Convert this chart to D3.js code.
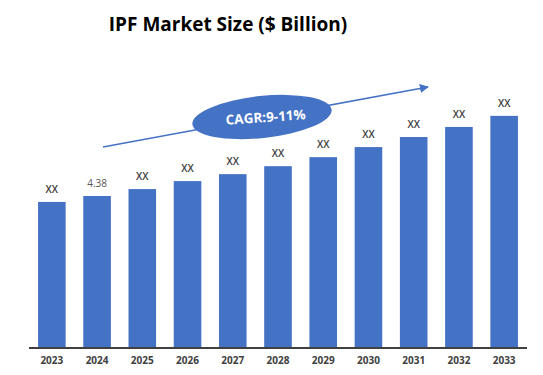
<!DOCTYPE html>
<html>
  <head>
    <meta charset="utf-8" />
    <title>IPF Market Size</title>
    <script src="https://d3js.org/d3.v7.min.js"></script>
    <style>
      body { margin: 0; background: #fff; }
      svg { font-family: "Open Sans", "Liberation Sans", sans-serif; display: block; }
    </style>
  </head>
  <body>
    <div id="chart"></div>
    <script>
      // chart data
      const years = ["2023", "2024", "2025", "2026", "2027", "2028", "2029", "2030", "2031", "2032", "2033"];
      const values = [4.21, 4.38, 4.58, 4.81, 5.01, 5.24, 5.5, 5.79, 6.08, 6.37, 6.69];
      const labels = ["XX", "4.38", "XX", "XX", "XX", "XX", "XX", "XX", "XX", "XX", "XX"];

      const width = 543;
      const height = 375;
      const baseY = 348;

      const svg = d3.select("#chart").append("svg")
        .attr("width", width)
        .attr("height", height);

      const x = d3.scaleBand().domain(years).range([29, 527]).paddingInner(0.39).paddingOuter(0.2);
      const y = d3.scaleLinear().domain([0, 1]).range([baseY, baseY - 34.7]);

      // title
      svg.append("text")
        .attr("x", 228)
        .attr("y", 31)
        .attr("text-anchor", "middle")
        .attr("font-size", "19px")
        .attr("font-weight", "bold")
        .attr("fill", "#000")
        .text("IPF Market Size ($ Billion)");

      // bars
      svg.selectAll(".bar")
        .data(values)
        .join("rect")
        .attr("class", "bar")
        .attr("x", (d, i) => x(years[i]))
        .attr("y", d => y(d))
        .attr("width", x.bandwidth())
        .attr("height", d => baseY - y(d))
        .attr("fill", "#4472c4");

      // value labels
      svg.selectAll(".lbl")
        .data(values)
        .join("text")
        .attr("class", "lbl")
        .attr("x", (d, i) => x(years[i]) + x.bandwidth() / 2)
        .attr("y", d => y(d) - 9)
        .attr("text-anchor", "middle")
        .attr("font-size", "10px")
        .attr("font-weight", (d, i) => labels[i] === "XX" ? "600" : "normal")
        .attr("fill", (d, i) => labels[i] === "XX" ? "#404040" : "#595959")
        .text((d, i) => labels[i]);

      // x axis
      const xAxis = d3.axisBottom(x).tickSize(0).tickPadding(9);
      const gx = svg.append("g")
        .attr("transform", `translate(0,${baseY})`)
        .call(xAxis);
      gx.select(".domain").attr("stroke", "#404040").attr("stroke-width", 2).attr("d", "M29,0H527");
      gx.selectAll("text")
        .attr("font-family", "'Open Sans', sans-serif")
        .attr("font-size", "10px")
        .attr("font-weight", "bold")
        .attr("fill", "#404040");

      // CAGR arrow
      const defs = svg.append("defs");
      defs.append("marker")
        .attr("id", "arrow")
        .attr("viewBox", "0 0 10 10")
        .attr("refX", 9)
        .attr("refY", 5)
        .attr("markerWidth", 6)
        .attr("markerHeight", 6)
        .attr("orient", "auto")
        .append("path")
        .attr("d", "M0,0L10,5L0,10z")
        .attr("fill", "#4472c4");

      svg.append("line")
        .attr("x1", 103).attr("y1", 147)
        .attr("x2", 428).attr("y2", 87)
        .attr("stroke", "#4472c4")
        .attr("stroke-width", 1.5)
        .attr("marker-end", "url(#arrow)");

      svg.append("ellipse")
        .attr("cx", 262).attr("cy", 117)
        .attr("rx", 70).attr("ry", 21)
        .attr("transform", "rotate(-6,262,117)")
        .attr("fill", "#4472c4");

      svg.append("text")
        .attr("x", 266)
        .attr("y", 122)
        .attr("text-anchor", "middle")
        .attr("transform", "rotate(-4,266,122)")
        .attr("font-size", "13.5px")
        .attr("font-weight", "bold")
        .attr("fill", "#fff")
        .text("CAGR:9-11%");
    </script>
  </body>
</html>
